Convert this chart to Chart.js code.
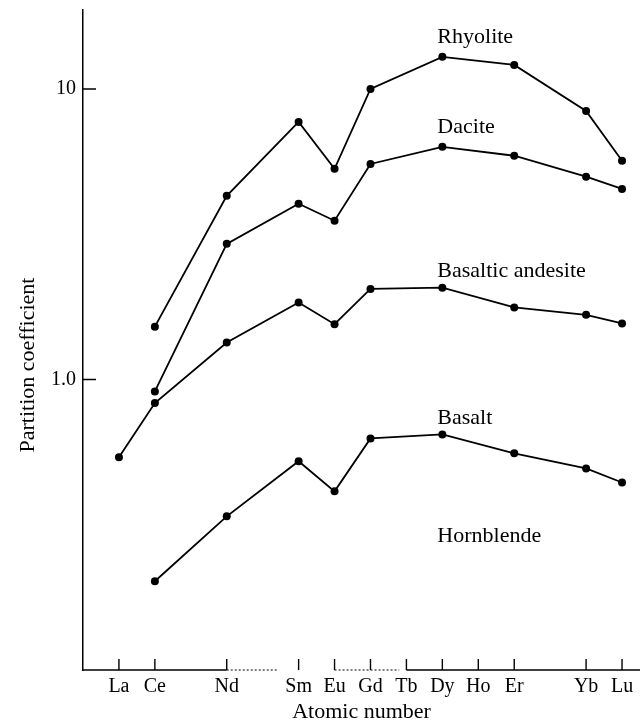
<!DOCTYPE html>
<html>
<head>
<meta charset="utf-8">
<script src="https://cdn.jsdelivr.net/npm/chart.js@4.4.1/dist/chart.umd.min.js"></script>
<style>
  body { margin: 0; background: #fff; }
  #wrap { width: 640px; height: 723px; }
</style>
</head>
<body>
<div id="wrap"><canvas id="chart"></canvas></div>
<script>
// tick labels on the atomic number axis
const elements = ['La', 'Ce', 'Nd', 'Sm', 'Eu', 'Gd', 'Tb', 'Dy', 'Ho', 'Er', 'Yb', 'Lu'];
const atomicNumbers = [57, 58, 60, 62, 63, 64, 65, 66, 67, 68, 70, 71];

// elements measured for each rock
const measured = ['Ce', 'Nd', 'Sm', 'Eu', 'Gd', 'Dy', 'Er', 'Yb', 'Lu'];
const measuredBA = ['La', 'Ce', 'Nd', 'Sm', 'Eu', 'Gd', 'Dy', 'Er', 'Yb', 'Lu'];

const rhyolite = [1.52, 4.29, 7.7, 5.31, 10.0, 12.9, 12.1, 8.4, 5.66];
const dacite = [0.91, 2.93, 4.03, 3.52, 5.52, 6.32, 5.89, 4.99, 4.53];
const basalticAndesite = [0.54, 0.83, 1.34, 1.84, 1.55, 2.05, 2.07, 1.77, 1.67, 1.56];
const basalt = [0.202, 0.338, 0.523, 0.412, 0.627, 0.647, 0.557, 0.494, 0.442];

const seriesNames = ['Rhyolite', 'Dacite', 'Basaltic andesite', 'Basalt'];
const yTicks = [1, 10];

const FONT = '"Liberation Serif", "DejaVu Serif", serif';

function toPoints(names, vals) {
    return names.map((n, i) => ({ x: atomicNumbers[elements.indexOf(n)], y: vals[i] }));
}

function ds(label, data) {
    return {
        label: label,
        data: data,
        borderColor: '#000',
        backgroundColor: '#000',
        borderWidth: 1.8,
        pointRadius: 4,
        pointBorderWidth: 0,
        showLine: true,
        tension: 0,
        clip: false
    };
}

// axis ticks, dotted axis pieces and text labels
const decorations = {
    id: 'decorations',
    afterDraw(chart) {
        const ctx = chart.ctx;
        const x = chart.scales.x, y = chart.scales.y;
        const bottom = chart.chartArea.bottom, left = chart.chartArea.left;
        ctx.save();
        ctx.strokeStyle = '#000';
        ctx.lineWidth = 1.4;

        // x axis line, with the dotted bits of the original
        const px = v => x.getPixelForValue(v);
        ctx.beginPath();
        ctx.moveTo(left, bottom); ctx.lineTo(px(60), bottom);
        ctx.moveTo(px(65), bottom); ctx.lineTo(chart.chartArea.right, bottom);
        ctx.stroke();
        ctx.setLineDash([2, 2]);
        ctx.lineWidth = 1;
        ctx.beginPath();
        ctx.moveTo(px(60), bottom); ctx.lineTo(px(61.4), bottom);
        ctx.moveTo(px(63), bottom); ctx.lineTo(px(64.8), bottom);
        ctx.stroke();
        ctx.setLineDash([]);
        ctx.lineWidth = 1.4;

        // inward ticks
        ctx.beginPath();
        atomicNumbers.forEach(v => {
            ctx.moveTo(px(v), bottom);
            ctx.lineTo(px(v), bottom - 11);
        });
        yTicks.forEach(v => {
            const py = y.getPixelForValue(v);
            ctx.moveTo(left, py);
            ctx.lineTo(left + 13, py);
        });
        ctx.stroke();

        // series names above the Dy point
        ctx.fillStyle = '#000';
        ctx.font = '22px ' + FONT;
        ctx.textAlign = 'left';
        ctx.textBaseline = 'alphabetic';
        const dyX = px(66) - 5;
        const offsets = [14, 14, 11, 10];
        seriesNames.forEach((name, i) => {
            const pt = chart.getDatasetMeta(i).data.find((p, j) => chart.data.datasets[i].data[j].x === 66);
            ctx.fillText(name, dyX, pt.y - offsets[i]);
        });
        ctx.fillText('Hornblende', dyX, y.getPixelForValue(0.275));

        // y axis title
        ctx.save();
        ctx.translate(34, 365);
        ctx.rotate(-Math.PI / 2);
        ctx.textAlign = 'center';
        ctx.textBaseline = 'alphabetic';
        ctx.fillText('Partition coefficient', 0, 0);
        ctx.restore();

        ctx.restore();
    }
};

new Chart(document.getElementById('chart'), {
    type: 'scatter',
    data: {
        datasets: [
            ds('Rhyolite', toPoints(measured, rhyolite)),
            ds('Dacite', toPoints(measured, dacite)),
            ds('Basaltic andesite', toPoints(measuredBA, basalticAndesite)),
            ds('Basalt', toPoints(measured, basalt))
        ]
    },
    options: {
        responsive: true,
        maintainAspectRatio: false,
        animation: false,
        layout: { autoPadding: false, padding: { top: 10, right: 0, left: 0, bottom: 0 } },
        plugins: { legend: { display: false }, tooltip: { enabled: false } },
        scales: {
            x: {
                type: 'linear',
                min: 56,
                max: 71.5,
                grid: { display: false, drawTicks: false },
                border: { display: false },
                afterBuildTicks: s => { s.ticks = atomicNumbers.map(v => ({ value: v })); },
                afterFit: s => { s.height = 53; s.paddingLeft = 0; s.paddingRight = 0; },
                ticks: {
                    autoSkip: false,
                    maxRotation: 0,
                    padding: 5,
                    color: '#000',
                    font: { family: FONT, size: 20 },
                    callback: v => elements[atomicNumbers.indexOf(v)]
                },
                title: {
                    display: true,
                    text: 'Atomic number',
                    color: '#000',
                    font: { family: FONT, size: 22 },
                    padding: { top: 0, bottom: -2 }
                }
            },
            y: {
                type: 'logarithmic',
                min: 0.1,
                max: 18.7,
                grid: { display: false, drawTicks: false },
                border: { display: true, color: '#000', width: 1.5 },
                afterBuildTicks: s => { s.ticks = yTicks.map(v => ({ value: v })); },
                afterFit: s => { s.width = 83; s.paddingTop = 0; s.paddingBottom = 0; },
                ticks: {
                    padding: 7,
                    color: '#000',
                    font: { family: FONT, size: 20 },
                    callback: v => (v === 1 ? '1.0' : '10')
                }
            }
        }
    },
    plugins: [decorations]
});
</script>
</body>
</html>
